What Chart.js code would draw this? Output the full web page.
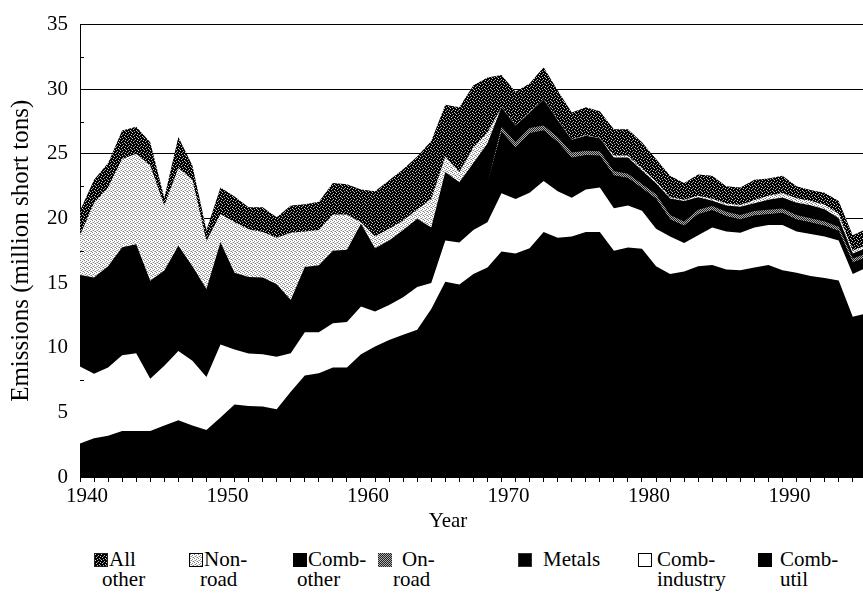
<!DOCTYPE html>
<html>
<head>
<meta charset="utf-8">
<script src="https://cdn.jsdelivr.net/npm/chart.js@4.4.1/dist/chart.umd.min.js"></script>
<style>
  html, body { margin: 0; padding: 0; background: #fff; }
  #wrap { position: relative; width: 863px; height: 599px; overflow: hidden;
          font-family: "Liberation Serif", "Times New Roman", serif; color: #000; }
  #c { position: absolute; left: 0; top: 0; }
  #xtitle { position: absolute; top: 510px; left: 448px; transform: translateX(-50%);
            font-size: 21px; line-height: 20px; white-space: nowrap; }
  .lgbox { position: absolute; top: 553px; width: 14px; height: 14px; box-sizing: border-box; }
  .lgt { position: absolute; font-size: 21px; line-height: 20px; white-space: nowrap; }
</style>
</head>
<body>
<div id="wrap">
  <canvas id="c" width="863" height="535"></canvas>
  <div id="xtitle">Year</div>
</div>
<script>
// ---------------- DATA ----------------
const years = [1940,1941,1942,1943,1944,1945,1946,1947,1948,1949,
               1950,1951,1952,1953,1954,1955,1956,1957,1958,1959,
               1960,1961,1962,1963,1964,1965,1966,1967,1968,1969,
               1970,1971,1972,1973,1974,1975,1976,1977,1978,1979,
               1980,1981,1982,1983,1984,1985,1986,1987,1988,1989,
               1990,1991,1992,1993,1994,1995,1996];

const seriesNames = ['Comb-util','Comb-industry','Metals','On-road','Comb-other','Non-road','All other'];

const combUtil = [2.6,3.0,3.2,3.56,3.56,3.56,3.99,4.39,3.99,3.64,
                  4.6,5.6,5.5,5.45,5.25,6.6,7.85,8.03,8.48,8.48,
                  9.5,10.1,10.6,11.0,11.4,13.0,15.1,14.9,15.7,16.2,
                  17.45,17.3,17.7,18.96,18.5,18.6,18.96,18.96,17.5,17.75,
                  17.65,16.3,15.7,15.9,16.3,16.4,16.06,16.0,16.2,16.4,
                  16.0,15.8,15.55,15.4,15.2,12.4,12.65];

const combIndustry = [5.94,4.98,5.28,5.86,6.01,4.04,4.61,5.36,5.0,4.09,
                      5.65,4.27,4.05,4.05,4.05,2.97,3.34,3.17,3.42,3.52,
                      3.7,2.7,2.7,2.9,3.3,2.0,3.2,3.25,3.4,3.5,
                      4.5,4.2,4.3,3.94,3.6,3.0,3.29,3.44,3.3,3.25,
                      2.95,2.9,2.9,2.2,2.4,2.9,2.94,2.9,3.1,3.1,
                      3.5,3.2,3.25,3.2,3.1,3.3,3.55];

const metals = [3.4,3.55,3.75,4.0,4.05,3.6,3.5,3.9,3.5,3.25,
                3.8,2.85,2.85,2.85,2.7,2.0,2.45,2.5,2.7,2.7,
                3.1,2.4,2.45,2.55,2.6,2.1,2.6,2.3,2.55,3.0,
                4.75,4.0,4.6,3.9,3.8,3.1,2.65,2.45,2.53,2.13,
                1.73,2.33,1.33,1.33,1.63,1.33,1.18,1.03,0.93,0.83,
                0.93,0.93,0.88,0.83,0.73,0.9,0.8];

const onRoad = [0,0,0,0,0,0,0,0,0,0,
                0,0,0,0,0,0,0,0,0,0,
                0,0,0,0,0,0,0,0,0,0,
                0.4,0.4,0.4,0.4,0.4,0.4,0.35,0.35,0.34,0.34,
                0.34,0.34,0.34,0.34,0.34,0.34,0.34,0.34,0.34,0.34,
                0.34,0.34,0.34,0.34,0.34,0.3,0.3];

const combOther = [3.69,3.9,4.07,4.36,4.38,3.98,3.88,4.25,3.81,3.57,
                   4.11,3.08,3.08,3.08,2.92,2.13,2.6,2.69,2.9,2.88,
                   3.3,2.5,2.55,2.65,2.67,2.2,2.7,2.35,2.65,3.1,
                   1.5,1.3,1.2,2.0,1.3,1.0,1.15,1.0,1.05,1.25,
                   1.05,0.85,1.28,1.58,0.98,0.4,0.48,0.63,0.61,0.78,
                   0.85,0.95,1.0,0.95,0.65,0.4,0.45];

const nonRoad = [3.07,5.77,6.1,6.82,7.0,8.92,5.02,6.0,6.7,3.7,
                 2.19,3.9,3.69,3.53,3.58,5.2,2.76,2.71,2.8,2.72,
                 0.1,0.9,0.9,0.75,0.73,2.2,1.2,0.8,1.2,0.85,
                 0.03,0.03,0.03,0.03,0.03,0.03,0.03,0.03,0.15,0.15,
                 0.15,0.15,0.1,0.1,0.1,0.15,0.15,0.15,0.25,0.3,
                 0.35,0.35,0.35,0.35,0.35,0.2,0.2];

const allOther = [1.9,1.8,1.9,2.2,2.1,1.8,0.6,2.4,1.1,0.85,
                  2.05,2.0,1.69,1.9,1.6,2.1,2.1,2.2,2.45,2.35,
                  2.55,3.5,3.75,3.95,4.1,4.5,4.0,5.0,4.8,4.25,
                  2.47,2.57,2.22,2.47,2.27,2.07,2.17,2.07,2.03,2.03,
                  2.03,1.73,1.65,1.3,1.65,1.78,1.35,1.35,1.57,1.35,
                  1.33,0.93,0.83,0.93,0.98,1.2,1.25];

const seriesValues = [combUtil, combIndustry, metals, onRoad, combOther, nonRoad, allOther];

const yTitle = 'Emissions (million short tons)';
const xTitle = 'Year';
const yTickStep = 5;
const xLabelStep = 10;

// ---------------- STYLES ----------------
const FONT = '"Liberation Serif", "Times New Roman", serif';

function makeTile(size, bg, dots) {
  const c = document.createElement('canvas');
  c.width = size; c.height = size;
  const g = c.getContext('2d');
  g.fillStyle = bg; g.fillRect(0, 0, size, size);
  dots.forEach(d => { g.fillStyle = d[2]; g.fillRect(d[0], d[1], 1, 1); });
  return c;
}
const tileAll = makeTile(6, '#000', [[0,0,'#d0d0d0'],[3,1,'#b8b8b8'],[5,2,'#d0d0d0'],[1,3,'#c0c0c0'],
                                      [4,4,'#d0d0d0'],[2,5,'#b0b0b0'],[5,5,'#909090'],[2,2,'#808080']]);
const tileNon = makeTile(4, '#fff', [[0,0,'#808080'],[2,1,'#8a8a8a'],[1,2,'#909090'],[3,3,'#808080'],
                                      [2,3,'#c0c0c0'],[0,2,'#c8c8c8']]);
const tileOn  = makeTile(2, '#222', [[1,0,'#b0b0b0'],[0,1,'#a8a8a8']]);

const ctx = document.getElementById('c').getContext('2d');
const pat = t => ctx.createPattern(t, 'repeat');

const styles = [
  { bg: '#000',       legendBg: '#000',    legendBorder: 'none' },
  { bg: '#fff',       legendBg: '#fff',    legendBorder: '1px solid #000' },
  { bg: '#000',       legendBg: '#000',    legendBorder: '1px solid #333' },
  { bg: pat(tileOn),  legendTile: tileOn,  legendBorder: 'none' },
  { bg: '#000',       legendBg: '#000',    legendBorder: 'none' },
  { bg: pat(tileNon), legendTile: tileNon, legendBorder: '1px solid #000' },
  { bg: pat(tileAll), legendTile: tileAll, legendBorder: '1px solid #222' }
];

// Stacked values. Upper bands are painted first (Chart.js draws the last dataset
// first) and filled down to the origin, so each band edge is a single edge.
// The thin On-road band is filled only between its neighbours to avoid a seam.
const datasets = seriesNames.map((name, i) => ({
  label: name,
  data: years.map((yr, k) => ({ x: yr, y: seriesValues[i][k] })),
  backgroundColor: styles[i].bg,
  borderColor: 'rgba(0,0,0,0)',
  borderWidth: 0,
  fill: i === 3 ? '-1' : 'origin',
  pointRadius: 0,
  tension: 0
}));

// inward minor ticks on the value axis (half-way between labelled ticks)
const minorTicks = {
  id: 'minorTicks',
  afterDatasetsDraw(chart) {
    const ys = chart.scales.y, g = chart.ctx, left = chart.chartArea.left;
    g.save();
    g.strokeStyle = '#000'; g.lineWidth = 1;
    ys.ticks.forEach(t => {
      const v = t.value + yTickStep / 2;
      if (v < ys.max) {
        const py = Math.round(ys.getPixelForValue(v)) + 0.5;
        g.beginPath(); g.moveTo(left, py); g.lineTo(left + 4, py); g.stroke();
      }
    });
    g.restore();
  }
};

const chart = new Chart(ctx, {
  type: 'line',
  data: { datasets },
  plugins: [minorTicks],
  options: {
    responsive: false,
    animation: false,
    devicePixelRatio: 1,
    events: [],
    layout: { padding: { left: 0, right: 0, top: 15, bottom: 0 } },
    plugins: { legend: { display: false }, tooltip: { enabled: false } },
    scales: {
      x: {
        type: 'linear',
        min: years[0],
        max: 1995.73,
        ticks: {
          stepSize: 1,
          autoSkip: false,
          maxRotation: 0,
          minRotation: 0,
          includeBounds: false,
          labelOffset: 7,
          padding: 2,
          color: '#000',
          font: { family: FONT, size: 21 },
          callback: v => {
            const r = Math.round(v);
            return (Math.abs(v - r) < 1e-6 && r % xLabelStep === 0) ? String(r) : '';
          }
        },
        grid: { drawOnChartArea: false, drawTicks: true, tickLength: 5, color: '#000', lineWidth: 1 },
        border: { display: true, color: '#000', width: 1 },
        afterFit: s => { s.height = 58; }
      },
      y: {
        stacked: true,
        min: 0,
        max: 35,
        ticks: {
          stepSize: yTickStep,
          padding: 12,
          color: '#000',
          font: { family: FONT, size: 21 }
        },
        grid: { color: '#000', lineWidth: 1, drawTicks: false },
        border: { display: true, color: '#000', width: 1 },
        title: {
          display: true,
          text: yTitle,
          color: '#000',
          font: { family: FONT, size: 25 },
          padding: { top: 6, bottom: 0 }
        },
        afterFit: s => { s.width = 80; }
      }
    }
  }
});

document.getElementById('xtitle').textContent = xTitle;

// ---------------- HTML legend (reverse of stacking order) ----------------
const legendPos = [
  { box: 94,  l1: 109, l2: 102 },
  { box: 189, l1: 204, l2: 200 },
  { box: 293, l1: 308, l2: 297 },
  { box: 378, l1: 402, l2: 393 },
  { box: 518, l1: 543, l2: 543 },
  { box: 638, l1: 657, l2: 657 },
  { box: 758, l1: 780, l2: 780 }
];
const wrap = document.getElementById('wrap');
const order = seriesNames.map((_, i) => i).reverse();
order.forEach((si, k) => {
  const pos = legendPos[k], st = styles[si];
  const box = document.createElement('div');
  box.className = 'lgbox';
  box.style.left = pos.box + 'px';
  box.style.border = st.legendBorder;
  if (st.legendTile) box.style.backgroundImage = 'url(' + st.legendTile.toDataURL() + ')';
  else box.style.background = st.legendBg;
  wrap.appendChild(box);
  const name = seriesNames[si];
  const m = name.match(/^([^ -]+[-]?)[ ]?(.*)$/);
  const lines = m && m[2] ? [m[1], m[2]] : [name];
  lines.forEach((ln, j) => {
    const t = document.createElement('div');
    t.className = 'lgt';
    t.textContent = ln;
    t.style.left = (j === 0 ? pos.l1 : pos.l2) + 'px';
    t.style.top = (549 + j * 20) + 'px';
    wrap.appendChild(t);
  });
});
</script>
</body>
</html>
